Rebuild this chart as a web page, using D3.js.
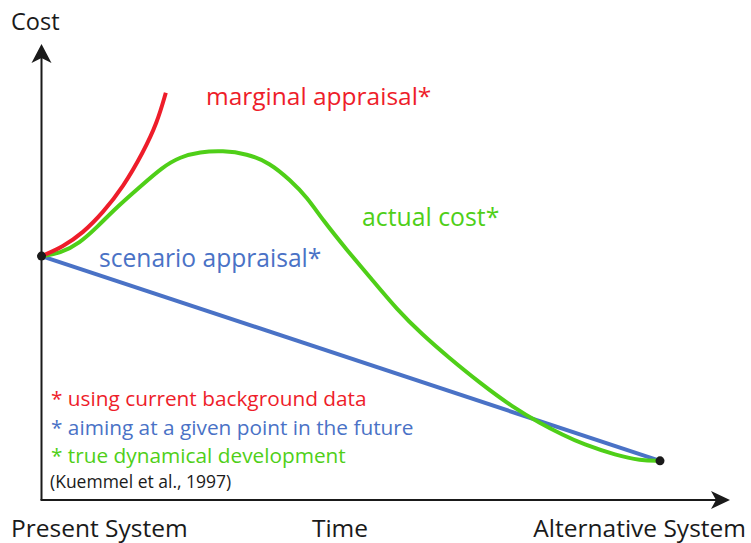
<!DOCTYPE html>
<html>
<head>
<meta charset="utf-8">
<script src="https://cdn.jsdelivr.net/npm/d3@7"></script>
<style>
  body { margin: 0; background: #fff; }
  svg text { font-family: "Open Sans", "Noto Sans", sans-serif; }
</style>
</head>
<body>
<div id="chart"></div>
<script>
// time runs 0..100 from present to alternative system, cost 0..100 up the axis
var actualTime = [0, 3.0, 6.2, 9.0, 12.2, 15.9, 19.6, 22.4, 25.6, 29.3, 33.2, 36.9, 40.2, 42.9, 45.5, 49.4, 53.1, 57.5, 61.7, 65.6, 70.9, 76.2, 80.6, 84.3, 87.5, 93.0, 96.8, 100];
var actualCost = [53.6, 54.2, 56.5, 60.0, 64.4, 68.8, 73.2, 75.4, 76.5, 76.8, 76.1, 74.1, 70.3, 66.6, 61.5, 54.9, 49.0, 41.8, 36.2, 31.6, 25.7, 20.4, 16.9, 14.3, 12.3, 9.8, 8.7, 8.6];

var marginalTime = [0, 3.5, 6.7, 9.9, 13.2, 16.4, 18.7, 20.1];
var marginalCost = [53.6, 55.7, 58.7, 63.1, 68.8, 76.3, 82.9, 89.5];

var scenarioTime = [0, 100];
var scenarioCost = [53.6, 8.6];

var axisLabels = ["Present System", "Time", "Alternative System"];
var notes = ["* using current background data", "* aiming at a given point in the future", "* true dynamical development"];
var source = "(Kuemmel et al., 1997)";

var red = "#ee1d2a", green = "#4fcf18", blue = "#4a72c6", ink = "#1a1a1a";

var width = 751, height = 543;

var svg = d3.select("#chart").append("svg").attr("width", width).attr("height", height);

var x = d3.scaleLinear().domain([0, 100]).range([41.5, 660]);
var y = d3.scaleLinear().domain([0, 100]).range([500, 45]);

var zip = function(xs, ys) { return xs.map(function(d, i) { return [d, ys[i]]; }); };

var line = d3.line()
    .x(function(d) { return x(d[0]); })
    .y(function(d) { return y(d[1]); })
    .curve(d3.curveBasis);

// axes with arrow heads
var x0 = x(0), y0 = y(0);
svg.append("line").attr("x1", x0).attr("y1", y0).attr("x2", x0).attr("y2", 58)
   .attr("stroke", ink).attr("stroke-width", 2);
svg.append("line").attr("x1", x0 - 1).attr("y1", y0).attr("x2", 716).attr("y2", y0)
   .attr("stroke", ink).attr("stroke-width", 2);
svg.append("path").attr("d", "M" + x0 + ",44 L" + (x0 + 10) + ",63 L" + x0 + ",58 L" + (x0 - 10) + ",63 Z").attr("fill", ink);
svg.append("path").attr("d", "M730," + y0 + " L711," + (y0 - 9) + " L716," + y0 + " L711," + (y0 + 9) + " Z").attr("fill", ink);

// curves
svg.append("path").attr("d", line(zip(scenarioTime, scenarioCost)))
   .attr("fill", "none").attr("stroke", blue).attr("stroke-width", 4);
svg.append("path").attr("d", line(zip(actualTime, actualCost)))
   .attr("fill", "none").attr("stroke", green).attr("stroke-width", 4).attr("stroke-linecap", "round");
svg.append("path").attr("d", line(zip(marginalTime, marginalCost)))
   .attr("fill", "none").attr("stroke", red).attr("stroke-width", 4);

svg.selectAll("circle.end").data(zip(scenarioTime, scenarioCost)).enter().append("circle")
   .attr("class", "end")
   .attr("cx", function(d) { return x(d[0]); })
   .attr("cy", function(d) { return y(d[1]); })
   .attr("r", 4.5).attr("fill", ink);

// labels
var label = function(txt, px, py, size, color, anchor) {
    return svg.append("text").attr("x", px).attr("y", py).attr("font-size", size)
              .attr("fill", color).attr("text-anchor", anchor || "start").text(txt);
};

label("Cost", 11, 30, 23.5, ink);
label(axisLabels[0], 11, 537, 24.5, ink);
label(axisLabels[1], 340, 537, 24.5, ink, "middle");
label(axisLabels[2], 746, 537, 24.5, ink, "end");

label("marginal appraisal*", 206, 105, 24.5, red);
label("actual cost*", 362, 226, 24.8, green);
label("scenario appraisal*", 99, 267, 24.6, blue);

var noteColors = [red, blue, green];
svg.selectAll("text.note").data(notes).enter().append("text")
   .attr("class", "note")
   .attr("x", 51)
   .attr("y", function(d, i) { return 406 + i * 28.5; })
   .attr("font-size", 20.8)
   .attr("fill", function(d, i) { return noteColors[i]; })
   .text(function(d) { return d; });

label(source, 50, 488, 17.5, ink);
</script>
</body>
</html>
